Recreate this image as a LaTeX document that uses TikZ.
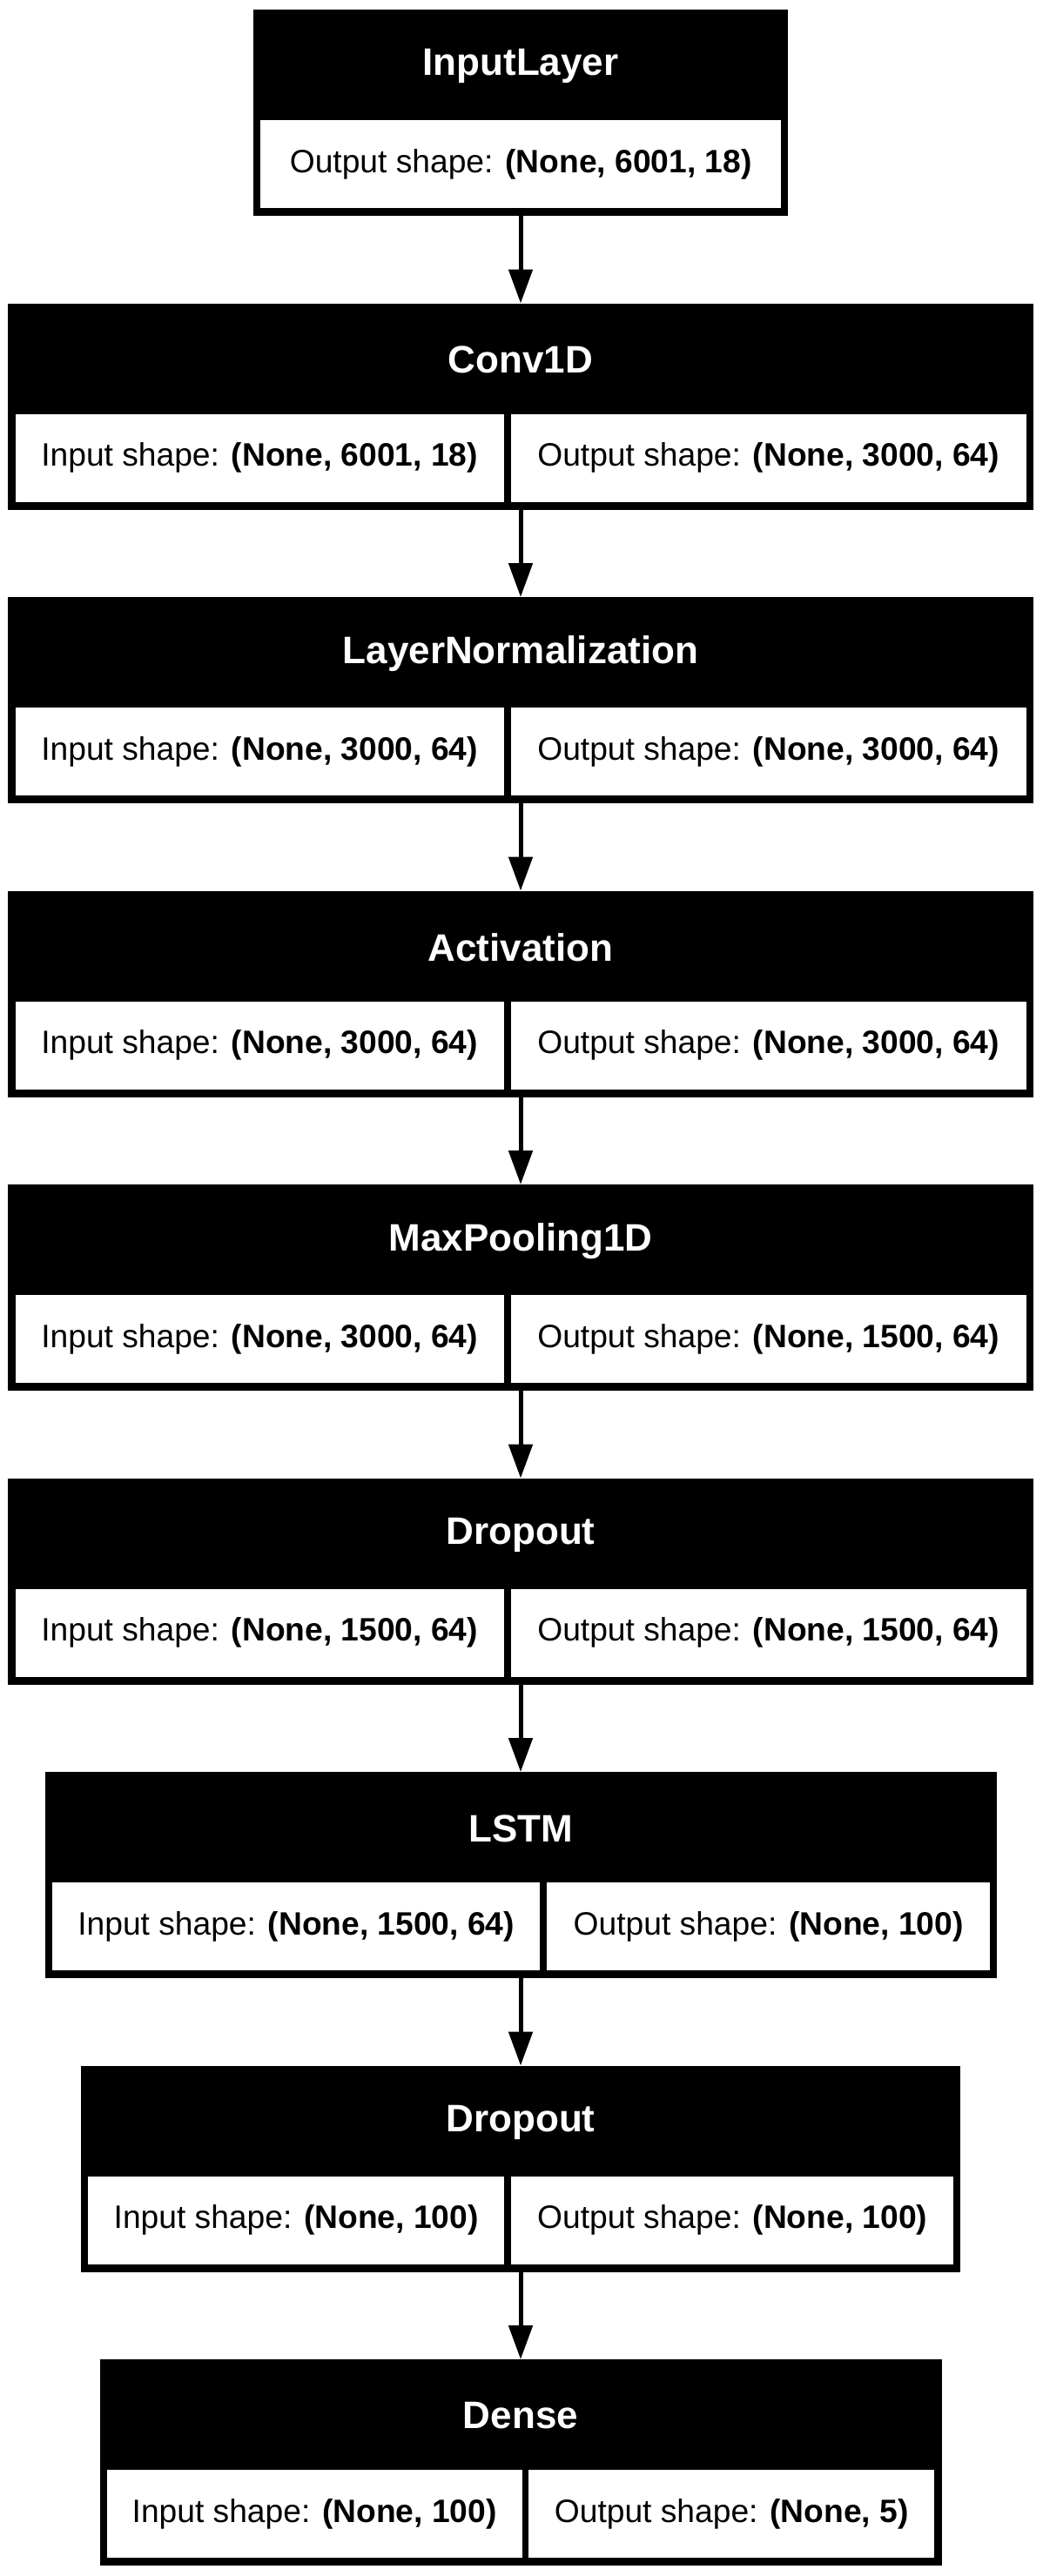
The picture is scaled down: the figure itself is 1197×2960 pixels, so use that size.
\documentclass[tikz,border=0pt]{standalone}
\usepackage{fontspec}
\setmainfont{Liberation Sans}
\usetikzlibrary{arrows.meta}
\newcommand{\headfont}{\fontsize{44}{52}\selectfont\bfseries}
\newcommand{\cellfont}{\fontsize{37.2}{44}\selectfont}
\tikzset{
  layerbox/.style={fill=black, inner sep=0pt, minimum height=237pt, anchor=north},
  headtext/.style={text=white, inner sep=0pt, font=\headfont},
  shapecell/.style={fill=white, inner sep=0pt, minimum height=101pt, anchor=north west, font=\cellfont},
  flow/.style={line width=5pt, -{Triangle[length=39pt,width=27pt]}}
}
\begin{document}
\begin{tikzpicture}[x=1pt, y=-1pt]
      \useasboundingbox (0,0) rectangle (1197,2960);
      % layer boxes
      \node[layerbox, minimum width=614pt] (input) at (598,11) {};
      \node[headtext] (inputname) at (598,76) {InputLayer};
      \node[shapecell, minimum width=598pt] (inputout) at (299,138) {Output shape: \textbf{(None, 6001, 18)}};

      \node[layerbox, minimum width=1178pt] (conv) at (598,348.5) {};
      \node[headtext] (convname) at (598,413.5) {Conv1D};
      \node[shapecell, minimum width=561pt] (convin) at (17.5,475.5) {Input shape: \textbf{(None, 6001, 18)}};
      \node[shapecell, minimum width=592pt] (convout) at (586.5,475.5) {Output shape: \textbf{(None, 3000, 64)}};

      \node[layerbox, minimum width=1178pt] (layernorm) at (598,686) {};
      \node[headtext] (layernormname) at (598,751) {LayerNormalization};
      \node[shapecell, minimum width=561pt] (layernormin) at (17.5,813) {Input shape: \textbf{(None, 3000, 64)}};
      \node[shapecell, minimum width=592pt] (layernormout) at (586.5,813) {Output shape: \textbf{(None, 3000, 64)}};

      \node[layerbox, minimum width=1178pt] (act) at (598,1023.5) {};
      \node[headtext] (actname) at (598,1088.5) {Activation};
      \node[shapecell, minimum width=561pt] (actin) at (17.5,1150.5) {Input shape: \textbf{(None, 3000, 64)}};
      \node[shapecell, minimum width=592pt] (actout) at (586.5,1150.5) {Output shape: \textbf{(None, 3000, 64)}};

      \node[layerbox, minimum width=1178pt] (maxpool) at (598,1361) {};
      \node[headtext] (maxpoolname) at (598,1426) {MaxPooling1D};
      \node[shapecell, minimum width=561pt] (maxpoolin) at (17.5,1488) {Input shape: \textbf{(None, 3000, 64)}};
      \node[shapecell, minimum width=592pt] (maxpoolout) at (586.5,1488) {Output shape: \textbf{(None, 1500, 64)}};

      \node[layerbox, minimum width=1178pt] (drop) at (598,1698.5) {};
      \node[headtext] (dropname) at (598,1763.5) {Dropout};
      \node[shapecell, minimum width=561pt] (dropin) at (17.5,1825.5) {Input shape: \textbf{(None, 1500, 64)}};
      \node[shapecell, minimum width=592pt] (dropout) at (586.5,1825.5) {Output shape: \textbf{(None, 1500, 64)}};

      \node[layerbox, minimum width=1093pt] (lstm) at (598,2036) {};
      \node[headtext] (lstmname) at (598,2101) {LSTM};
      \node[shapecell, minimum width=560pt] (lstmin) at (60,2163) {Input shape: \textbf{(None, 1500, 64)}};
      \node[shapecell, minimum width=509pt] (lstmout) at (628,2163) {Output shape: \textbf{(None, 100)}};

      \node[layerbox, minimum width=1010pt] (dropb) at (598,2373.5) {};
      \node[headtext] (dropbname) at (598,2438.5) {Dropout};
      \node[shapecell, minimum width=478pt] (dropbin) at (101,2500.5) {Input shape: \textbf{(None, 100)}};
      \node[shapecell, minimum width=508pt] (dropbout) at (587,2500.5) {Output shape: \textbf{(None, 100)}};

      \node[layerbox, minimum width=967pt] (dense) at (598,2711) {};
      \node[headtext] (densename) at (598,2776) {Dense};
      \node[shapecell, minimum width=477pt] (densein) at (122.5,2838) {Input shape: \textbf{(None, 100)}};
      \node[shapecell, minimum width=466pt] (denseout) at (607,2838) {Output shape: \textbf{(None, 5)}};
      % connections
      \begin{scope}[flow]
        \draw (input.south) to (conv.north);
        \draw (conv.south) to (layernorm.north);
        \draw (layernorm.south) to (act.north);
        \draw (act.south) to (maxpool.north);
        \draw (maxpool.south) to (drop.north);
        \draw (drop.south) to (lstm.north);
        \draw (lstm.south) to (dropb.north);
        \draw (dropb.south) to (dense.north);
      \end{scope}
    \end{tikzpicture}
\end{document}
